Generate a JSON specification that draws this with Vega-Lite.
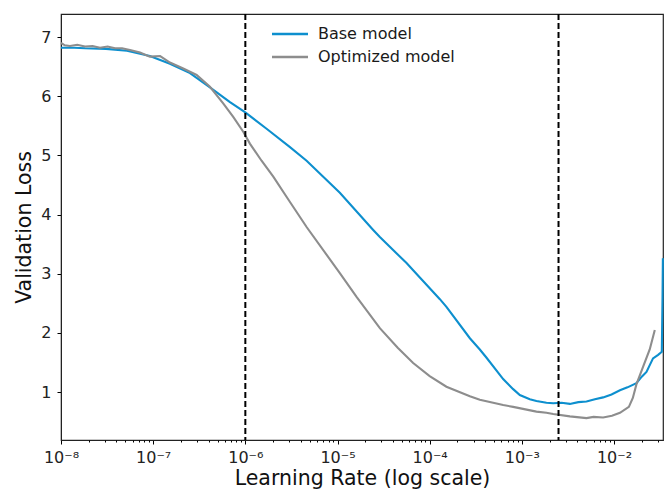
{
  "$schema": "https://vega.github.io/schema/vega-lite/v6.json",
  "width": 602,
  "height": 426,
  "autosize": {"type": "none"},
  "padding": {"left": 61, "top": 14, "right": 2, "bottom": 50},
  "config": {
    "font": "DejaVu Sans",
    "view": {"stroke": "#222222", "strokeWidth": 1.2}
  },
  "layer": [
    {
      "data": {
        "values": [
          {"lr": 1e-8, "loss": 6.82, "model": "Base model"},
          {"lr": 1.4e-8, "loss": 6.82, "model": "Base model"},
          {"lr": 1.82e-8, "loss": 6.81, "model": "Base model"},
          {"lr": 3.08e-8, "loss": 6.80, "model": "Base model"},
          {"lr": 5.2e-8, "loss": 6.77, "model": "Base model"},
          {"lr": 9.2e-8, "loss": 6.68, "model": "Base model"},
          {"lr": 1.52e-7, "loss": 6.55, "model": "Base model"},
          {"lr": 2.51e-7, "loss": 6.39, "model": "Base model"},
          {"lr": 4.13e-7, "loss": 6.15, "model": "Base model"},
          {"lr": 6.81e-7, "loss": 5.90, "model": "Base model"},
          {"lr": 9.9e-7, "loss": 5.73, "model": "Base model"},
          {"lr": 1.7e-6, "loss": 5.45, "model": "Base model"},
          {"lr": 3.05e-6, "loss": 5.14, "model": "Base model"},
          {"lr": 4.62e-6, "loss": 4.91, "model": "Base model"},
          {"lr": 1.06e-5, "loss": 4.37, "model": "Base model"},
          {"lr": 2.44e-5, "loss": 3.74, "model": "Base model"},
          {"lr": 2.88e-5, "loss": 3.62, "model": "Base model"},
          {"lr": 5.61e-5, "loss": 3.18, "model": "Base model"},
          {"lr": 6.62e-5, "loss": 3.06, "model": "Base model"},
          {"lr": 1.29e-4, "loss": 2.57, "model": "Base model"},
          {"lr": 1.52e-4, "loss": 2.44, "model": "Base model"},
          {"lr": 2.73e-4, "loss": 1.91, "model": "Base model"},
          {"lr": 3.5e-4, "loss": 1.72, "model": "Base model"},
          {"lr": 4.14e-4, "loss": 1.58, "model": "Base model"},
          {"lr": 6.27e-4, "loss": 1.22, "model": "Base model"},
          {"lr": 8.05e-4, "loss": 1.05, "model": "Base model"},
          {"lr": 9.51e-4, "loss": 0.95, "model": "Base model"},
          {"lr": 1.22e-3, "loss": 0.88, "model": "Base model"},
          {"lr": 1.44e-3, "loss": 0.85, "model": "Base model"},
          {"lr": 1.85e-3, "loss": 0.82, "model": "Base model"},
          {"lr": 2.19e-3, "loss": 0.81, "model": "Base model"},
          {"lr": 2.7e-3, "loss": 0.82, "model": "Base model"},
          {"lr": 3.32e-3, "loss": 0.80, "model": "Base model"},
          {"lr": 4.1e-3, "loss": 0.83, "model": "Base model"},
          {"lr": 5.03e-3, "loss": 0.84, "model": "Base model"},
          {"lr": 6.2e-3, "loss": 0.88, "model": "Base model"},
          {"lr": 7.62e-3, "loss": 0.91, "model": "Base model"},
          {"lr": 9.4e-3, "loss": 0.96, "model": "Base model"},
          {"lr": 1.16e-2, "loss": 1.03, "model": "Base model"},
          {"lr": 1.4e-2, "loss": 1.08, "model": "Base model"},
          {"lr": 1.75e-2, "loss": 1.15, "model": "Base model"},
          {"lr": 2.0e-2, "loss": 1.26, "model": "Base model"},
          {"lr": 2.25e-2, "loss": 1.34, "model": "Base model"},
          {"lr": 2.65e-2, "loss": 1.57, "model": "Base model"},
          {"lr": 3.01e-2, "loss": 1.63, "model": "Base model"},
          {"lr": 3.3e-2, "loss": 1.68, "model": "Base model"},
          {"lr": 3.36e-2, "loss": 2.6, "model": "Base model"},
          {"lr": 3.39e-2, "loss": 3.26, "model": "Base model"},
          {"lr": 1e-8, "loss": 6.90, "model": "Optimized model"},
          {"lr": 1.1e-8, "loss": 6.86, "model": "Optimized model"},
          {"lr": 1.25e-8, "loss": 6.85, "model": "Optimized model"},
          {"lr": 1.5e-8, "loss": 6.87, "model": "Optimized model"},
          {"lr": 1.82e-8, "loss": 6.84, "model": "Optimized model"},
          {"lr": 2.2e-8, "loss": 6.85, "model": "Optimized model"},
          {"lr": 2.65e-8, "loss": 6.82, "model": "Optimized model"},
          {"lr": 3.2e-8, "loss": 6.84, "model": "Optimized model"},
          {"lr": 3.86e-8, "loss": 6.81, "model": "Optimized model"},
          {"lr": 4.6e-8, "loss": 6.81, "model": "Optimized model"},
          {"lr": 5.6e-8, "loss": 6.78, "model": "Optimized model"},
          {"lr": 7.2e-8, "loss": 6.74, "model": "Optimized model"},
          {"lr": 9.2e-8, "loss": 6.67, "model": "Optimized model"},
          {"lr": 1.19e-7, "loss": 6.68, "model": "Optimized model"},
          {"lr": 1.52e-7, "loss": 6.57, "model": "Optimized model"},
          {"lr": 2.12e-7, "loss": 6.47, "model": "Optimized model"},
          {"lr": 2.96e-7, "loss": 6.36, "model": "Optimized model"},
          {"lr": 4.13e-7, "loss": 6.16, "model": "Optimized model"},
          {"lr": 5.75e-7, "loss": 5.88, "model": "Optimized model"},
          {"lr": 7.39e-7, "loss": 5.65, "model": "Optimized model"},
          {"lr": 9.49e-7, "loss": 5.40, "model": "Optimized model"},
          {"lr": 1.12e-6, "loss": 5.20, "model": "Optimized model"},
          {"lr": 1.5e-6, "loss": 4.91, "model": "Optimized model"},
          {"lr": 2.01e-6, "loss": 4.64, "model": "Optimized model"},
          {"lr": 3.0e-6, "loss": 4.23, "model": "Optimized model"},
          {"lr": 4.62e-6, "loss": 3.79, "model": "Optimized model"},
          {"lr": 1.06e-5, "loss": 3.01, "model": "Optimized model"},
          {"lr": 1.61e-5, "loss": 2.61, "model": "Optimized model"},
          {"lr": 2.88e-5, "loss": 2.08, "model": "Optimized model"},
          {"lr": 4.5e-5, "loss": 1.75, "model": "Optimized model"},
          {"lr": 6.62e-5, "loss": 1.49, "model": "Optimized model"},
          {"lr": 1.0e-4, "loss": 1.27, "model": "Optimized model"},
          {"lr": 1.52e-4, "loss": 1.09, "model": "Optimized model"},
          {"lr": 2.73e-4, "loss": 0.93, "model": "Optimized model"},
          {"lr": 3.5e-4, "loss": 0.87, "model": "Optimized model"},
          {"lr": 6.27e-4, "loss": 0.78, "model": "Optimized model"},
          {"lr": 8.05e-4, "loss": 0.75, "model": "Optimized model"},
          {"lr": 1.44e-3, "loss": 0.67, "model": "Optimized model"},
          {"lr": 1.85e-3, "loss": 0.65, "model": "Optimized model"},
          {"lr": 2.19e-3, "loss": 0.63, "model": "Optimized model"},
          {"lr": 3.32e-3, "loss": 0.59, "model": "Optimized model"},
          {"lr": 5.03e-3, "loss": 0.56, "model": "Optimized model"},
          {"lr": 6.0e-3, "loss": 0.58, "model": "Optimized model"},
          {"lr": 7.62e-3, "loss": 0.57, "model": "Optimized model"},
          {"lr": 9.5e-3, "loss": 0.60, "model": "Optimized model"},
          {"lr": 1.16e-2, "loss": 0.65, "model": "Optimized model"},
          {"lr": 1.45e-2, "loss": 0.75, "model": "Optimized model"},
          {"lr": 1.6e-2, "loss": 0.90, "model": "Optimized model"},
          {"lr": 1.75e-2, "loss": 1.13, "model": "Optimized model"},
          {"lr": 2.07e-2, "loss": 1.43, "model": "Optimized model"},
          {"lr": 2.44e-2, "loss": 1.72, "model": "Optimized model"},
          {"lr": 2.77e-2, "loss": 2.05, "model": "Optimized model"}
        ]
      },
      "mark": {"type": "line", "strokeWidth": 2.1},
      "encoding": {
        "x": {
          "field": "lr",
          "type": "quantitative",
          "scale": {"type": "log", "domain": [1e-8, 0.034], "nice": false},
          "axis": {
            "values": [1e-8, 1e-7, 1e-6, 1e-5, 1e-4, 1e-3, 1e-2],
            "labelExpr": "'10⁻' + ['⁰','¹','²','³','⁴','⁵','⁶','⁷','⁸','⁹'][-round(log(datum.value)/LN10)]",
            "grid": false,
            "tickSize": 4,
            "tickColor": "#000000",
            "domainColor": "#222222",
            "labelFontSize": 16,
            "labelColor": "#222222",
            "labelPadding": 5,
            "labelFlush": false,
            "title": "Learning Rate (log scale)",
            "titleFontSize": 20.5,
            "titleFontWeight": "normal",
            "titleColor": "#111111",
            "titlePadding": 3
          }
        },
        "y": {
          "field": "loss",
          "type": "quantitative",
          "scale": {"domain": [0.19, 7.39], "nice": false, "zero": false},
          "axis": {
            "values": [1, 2, 3, 4, 5, 6, 7],
            "grid": false,
            "tickSize": 4,
            "tickColor": "#000000",
            "domainColor": "#222222",
            "labelFontSize": 16,
            "labelColor": "#222222",
            "labelPadding": 6,
            "title": "Validation Loss",
            "titleFontSize": 20.5,
            "titleFontWeight": "normal",
            "titleColor": "#111111",
            "titlePadding": 6
          }
        },
        "color": {
          "field": "model",
          "type": "nominal",
          "scale": {"domain": ["Base model", "Optimized model"], "range": ["#0d8fce", "#8d8d8d"]},
          "legend": {
            "title": null,
            "orient": "none",
            "legendX": 221,
            "legendY": 12,
            "symbolType": "M-3,0H3",
            "symbolSize": 144,
            "symbolStrokeWidth": 2.5,
            "labelOffset": 20,
            "labelFontSize": 16,
            "labelColor": "#1a1a1a",
            "rowPadding": 7,
            "padding": 0
          }
        }
      }
    },
    {
      "data": {"values": [{"lr": 1e-6}, {"lr": 0.0025}]},
      "mark": {"type": "rule", "strokeDash": [6, 3], "strokeWidth": 2, "color": "#000000"},
      "encoding": {
        "x": {
          "field": "lr",
          "type": "quantitative",
          "axis": {
            "orient": "bottom",
            "values": [2e-8, 3e-8, 4e-8, 5e-8, 6e-8, 7e-8, 8e-8, 9e-8, 2e-7, 3e-7, 4e-7, 5e-7, 6e-7, 7e-7, 8e-7, 9e-7, 2e-6, 3e-6, 4e-6, 5e-6, 6e-6, 7e-6, 8e-6, 9e-6, 2e-5, 3e-5, 4e-5, 5e-5, 6e-5, 7e-5, 8e-5, 9e-5, 2e-4, 3e-4, 4e-4, 5e-4, 6e-4, 7e-4, 8e-4, 9e-4, 2e-3, 3e-3, 4e-3, 5e-3, 6e-3, 7e-3, 8e-3, 9e-3, 2e-2, 3e-2],
            "labels": false,
            "domain": false,
            "grid": false,
            "tickSize": 2,
            "tickColor": "#000000",
            "title": null
          }
        }
      }
    }
  ],
  "resolve": {"axis": {"x": "independent"}}
}
